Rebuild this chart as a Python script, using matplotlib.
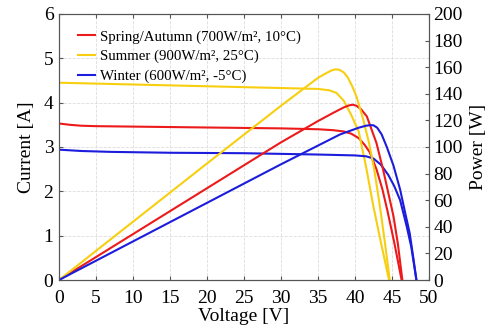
import numpy as np
import matplotlib
matplotlib.use('Agg')
import matplotlib.pyplot as plt

plt.rcParams['font.family'] = ['Liberation Serif', 'DejaVu Serif']

# I-V and P-V curves
v_sum_i = [0, 5, 10, 15, 20, 25, 30, 35, 36.5, 37.5, 38.5, 39.5, 40.5, 41.5, 42.5, 43.5, 44.6]
i_sum = [4.45, 4.43, 4.41, 4.39, 4.37, 4.35, 4.33, 4.31, 4.28, 4.22, 4.04, 3.72, 3.35, 2.55, 1.65, 0.85, 0.0]
v_sum_p = [0, 10, 20, 30, 35, 36.2, 36.9, 37.4, 37.9, 38.5, 39, 39.6, 40.2, 41.1, 41.9, 42.6, 43.3, 44.0, 44.7]
p_sum = [0, 43.8, 87.6, 131, 152, 155.8, 157.7, 158.4, 158, 156, 152.5, 146, 138, 121, 103, 83, 58, 30, 0]

v_spr_i = [0, 1.5, 3, 5, 10, 20, 30, 35, 37, 38.5, 39.5, 40.5, 41.3, 42, 42.9, 43.7, 44.4, 45.3, 46.3]
i_spr = [3.53, 3.50, 3.48, 3.47, 3.46, 3.44, 3.42, 3.40, 3.38, 3.35, 3.30, 3.20, 3.05, 2.88, 2.50, 2.05, 1.55, 0.85, 0.0]
v_spr_p = [0, 10, 20, 30, 35, 37, 38.5, 39.2, 39.7, 40.2, 40.8, 41.6, 42.9, 43.8, 44.6, 45.2, 45.8, 46.4]
p_spr = [0, 34.5, 69, 103.5, 119.5, 125.5, 129.8, 131.3, 131.8, 131, 128.5, 123, 103, 83, 63, 48, 27, 0]

v_win_i = [0, 3, 7, 15, 25, 35, 40, 41.5, 42.5, 43.5, 44.5, 45.3, 46.1, 47, 47.6, 48.3]
i_win = [2.94, 2.91, 2.89, 2.87, 2.86, 2.83, 2.81, 2.79, 2.74, 2.60, 2.37, 2.12, 1.80, 1.20, 0.75, 0.0]
v_win_p = [0, 10, 20, 30, 38, 40.5, 41.5, 42.0, 42.5, 43.0, 43.6, 44.3, 45.2, 46.1, 46.8, 47.4, 47.9, 48.3]
p_win = [0, 29, 58, 87, 109.5, 114.5, 116, 116.4, 116.3, 114.5, 109.5, 100, 86, 68, 50, 35, 16, 0]

labels = ['Spring/Autumn (700W/m², 10°C)', 'Summer (900W/m², 25°C)', 'Winter (600W/m², -5°C)']
colors = ['#ec1a1a', '#f7cf10', '#1c1cdc']

fig = plt.figure(figsize=(4.94, 3.30), dpi=100)
ax = fig.add_axes([0.1194, 0.1515, 0.7490, 0.8061])
ax2 = ax.twinx()

ax.plot(v_spr_i, i_spr, color=colors[0], lw=1.5, label=labels[0])
ax.plot(v_sum_i, i_sum, color=colors[1], lw=1.5, label=labels[1])
ax.plot(v_win_i, i_win, color=colors[2], lw=1.5, label=labels[2])
ax2.plot(v_spr_p, p_spr, color=colors[0], lw=1.5)
ax2.plot(v_sum_p, p_sum, color=colors[1], lw=1.5)
ax2.plot(v_win_p, p_win, color=colors[2], lw=1.5)

ax.set_xlim(0, 50)
ax.set_ylim(0, 6)
ax2.set_ylim(0, 200)
ax.set_xticks(np.arange(0, 51, 5))
ax.set_yticks(np.arange(0, 7, 1))
ax2.set_yticks(np.arange(0, 201, 20))
ax.grid(True, color='#dddddd', linestyle='--', linewidth=0.6)

for a in (ax, ax2):
    a.tick_params(direction='in', labelsize=14, length=3, color='#555555', top=True)
    for s in a.spines.values():
        s.set_color('#555555')
ax.tick_params(axis='x', pad=7)
ax.tick_params(axis='y', pad=4)
ax2.tick_params(axis='y', pad=3)

ax.set_xlabel('Voltage [V]', fontsize=14, labelpad=1)
ax.set_ylabel('Current [A]', fontsize=14, labelpad=6)
ax2.set_ylabel('Power [W]', fontsize=14, rotation=90, labelpad=5)

ax.legend(loc='upper left', bbox_to_anchor=(0.016, 0.989), frameon=False, fontsize=10.7,
          handlelength=1.1, handletextpad=0.35, labelspacing=0.4, borderaxespad=0.5)

plt.savefig('out.png', dpi=100)
